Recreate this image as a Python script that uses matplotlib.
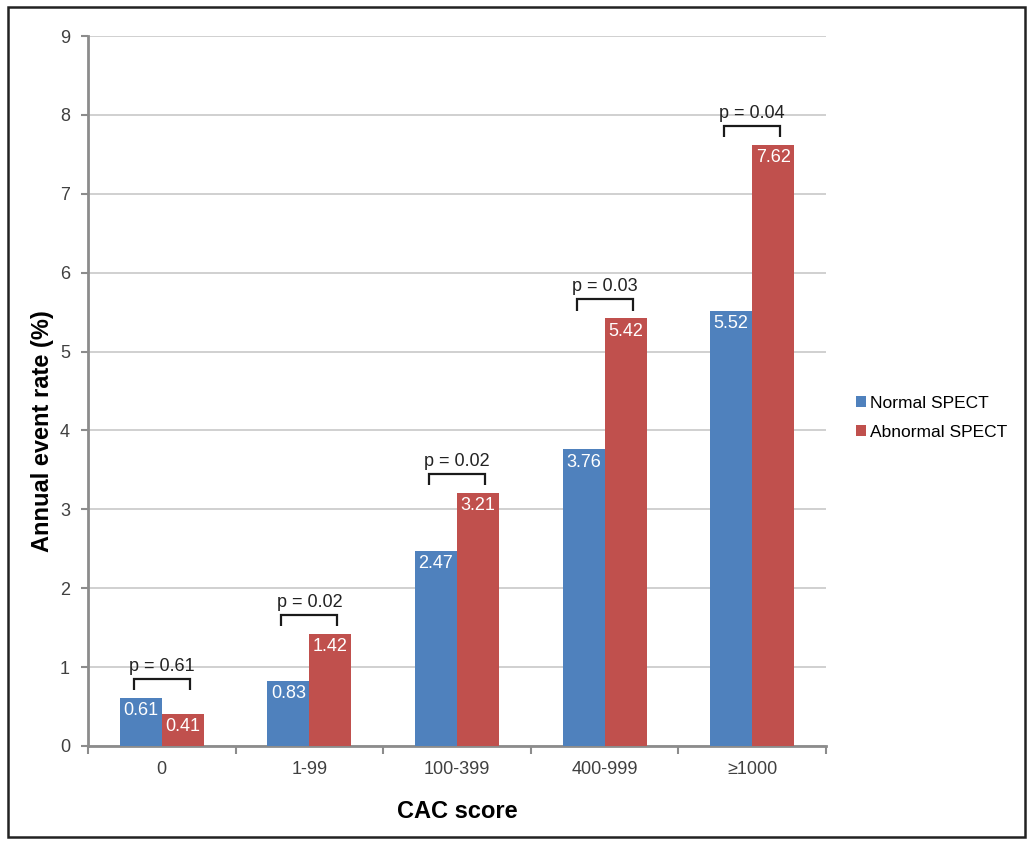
import matplotlib
matplotlib.use("Agg")
import matplotlib.pyplot as plt
from matplotlib.patches import Rectangle, Patch
import numpy as np

plt.rcParams['font.family'] = ['Liberation Sans', 'DejaVu Sans']

categories = ["0", "1-99", "100-399", "400-999", "\u22651000"]
normal_spect = [0.61, 0.83, 2.47, 3.76, 5.52]
abnormal_spect = [0.41, 1.42, 3.21, 5.42, 7.62]
p_values = ["p = 0.61", "p = 0.02", "p = 0.02", "p = 0.03", "p = 0.04"]
series_names = ["Normal SPECT", "Abnormal SPECT"]
y_ticks = [0, 1, 2, 3, 4, 5, 6, 7, 8, 9]

blue = "#4F81BD"
red = "#C0504D"
axis_grey = "#8C8C8C"
text_grey = "#404040"

W, H = 1029, 843
fig = plt.figure(figsize=(W / 100, H / 100), dpi=100)
ax = fig.add_axes([88 / W, 1 - 746 / H, (826 - 88) / W, (746 - 36) / H])

x = np.arange(len(categories))
w = 0.285
b1 = ax.bar(x - w / 2, normal_spect, w, color=blue, zorder=3)
b2 = ax.bar(x + w / 2, abnormal_spect, w, color=red, zorder=3)

# value labels inside the top of each bar
for bars, vals in ((b1, normal_spect), (b2, abnormal_spect)):
    for rect, v in zip(bars, vals):
        ax.annotate(f"{v:.2f}", (rect.get_x() + rect.get_width() / 2, v),
                    xytext=(0, -3), textcoords="offset points",
                    ha="center", va="top", color="white", fontsize=13, zorder=4)

# significance brackets
half = 0.19
gap = 0.24
leg = 0.14
for i, (a, b, p) in enumerate(zip(normal_spect, abnormal_spect, p_values)):
    top = max(a, b) + gap
    ax.plot([i - half, i - half, i + half, i + half],
            [top - leg, top, top, top - leg],
            color="#1a1a1a", lw=1.6, zorder=5, solid_capstyle="butt",
            solid_joinstyle="miter")
    ax.annotate(p, (i, top), xytext=(0, 3), textcoords="offset points",
                ha="center", va="bottom", fontsize=13, color="#222222", zorder=5)

ax.set_ylim(0, 9)
ax.set_xlim(-0.5, len(categories) - 0.5)
ax.set_yticks(y_ticks)
ax.set_yticklabels([str(t) for t in y_ticks])
ax.set_xticks(x)
ax.set_xticklabels(categories)
ax.set_xticks(np.arange(-0.5, len(categories)), minor=True)

ax.tick_params(axis="x", which="major", length=0, pad=11, labelsize=13, labelcolor=text_grey)
ax.tick_params(axis="x", which="minor", length=6, width=1.5, color=axis_grey, direction="out")
ax.tick_params(axis="y", length=5, width=1.5, color=axis_grey, pad=8, labelsize=13,
               labelcolor=text_grey)

ax.grid(axis="y", color="#C8C8C8", lw=1.2, zorder=0)
ax.set_axisbelow(True)
for s in ("top", "right"):
    ax.spines[s].set_visible(False)
for s in ("left", "bottom"):
    ax.spines[s].set_color(axis_grey)
    ax.spines[s].set_linewidth(2)

ax.set_ylabel("Annual event rate (%)", fontsize=17, fontweight="bold", va="center")
ax.yaxis.set_label_coords((43 - 88) / (826 - 88), (746 - 431) / (746 - 36))
ax.set_xlabel("CAC score", fontsize=17, fontweight="bold", labelpad=16)

handles = [Patch(facecolor=blue), Patch(facecolor=red)]
fig.legend(handles, series_names, loc="center left", bbox_to_anchor=(840 / W, 1 - 418 / H),
           frameon=False, fontsize=12.5, handlelength=0.6, handleheight=0.6,
           handletextpad=0.25, labelspacing=0.8)

# outer frame around the whole figure
fig.patches.append(Rectangle((8 / W, 1 - 837 / H), (1025 - 8) / W, (837 - 7) / H,
                             transform=fig.transFigure, fill=False, edgecolor="#222222",
                             lw=1.8, zorder=10))

fig.savefig("out.png", dpi=100)
